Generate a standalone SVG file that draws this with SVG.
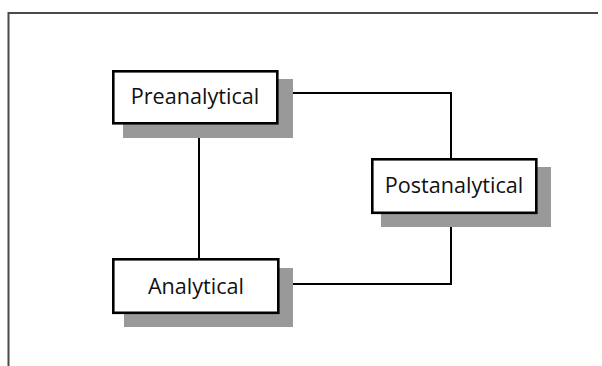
<svg xmlns="http://www.w3.org/2000/svg" width="602" height="366" viewBox="0 0 602 366">
<style>
.frame{fill:none;stroke:#4a4a4a;stroke-width:2}
.shadow{fill:#999999;stroke:none}
.box{fill:#ffffff;stroke:#000000;stroke-width:2.6}
.label{font-family:"Open Sans","Noto Sans",sans-serif;font-size:21.6px;fill:#111111;text-anchor:middle}
.conn{fill:none;stroke:#000000;stroke-width:2}
</style>
<rect width="602" height="366" fill="#ffffff"/>
<path class="frame" d="M8.5 366 V13 H598"/>
<g id="connectors">
<path class="conn" d="M199 138 V258"/>
<path class="conn" d="M292 93 H451 V158"/>
<path class="conn" d="M451 227 V284 H292"/>
</g>
<g id="preanalytical">
<rect class="shadow" x="123" y="79" width="170" height="59"/>
<rect class="box" x="113.3" y="71.3" width="164" height="52"/>
<text class="label" x="195" y="104">Preanalytical</text>
</g>
<g id="postanalytical">
<rect class="shadow" x="381" y="167" width="170" height="60"/>
<rect class="box" x="372.3" y="159.3" width="164" height="53.5"/>
<text class="label" x="454" y="193">Postanalytical</text>
</g>
<g id="analytical">
<rect class="shadow" x="124" y="268" width="169" height="59"/>
<rect class="box" x="113.3" y="259.3" width="165" height="53.5"/>
<text class="label" x="196" y="293.5">Analytical</text>
</g>
</svg>
